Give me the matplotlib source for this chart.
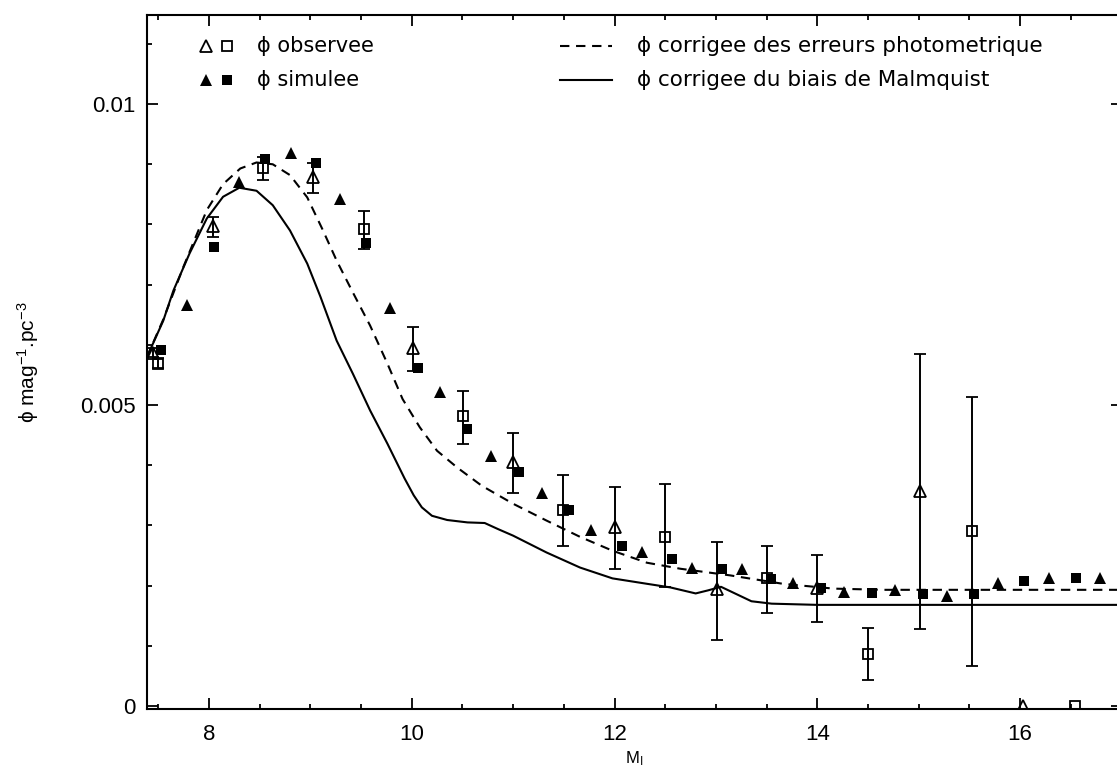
import numpy as np
import matplotlib
matplotlib.use("Agg")
import matplotlib.pyplot as plt
from matplotlib.ticker import MultipleLocator

# -----------------------------------------------------------------------------
# Data (M_I, phi in mag^-1.pc^-3)
# -----------------------------------------------------------------------------
# observed LF, open triangles (with error bars)
obs_tri_m = [7.45, 8.04, 9.03, 10.01, 11.00, 12.00, 13.01, 14.00, 15.01]
obs_tri_phi = [0.00587, 0.00797, 0.00879, 0.00594, 0.00406, 0.00298, 0.00195, 0.00196, 0.00358]
obs_tri_lo = [0.00580, 0.00780, 0.00852, 0.00557, 0.00354, 0.00228, 0.00110, 0.00140, 0.00128]
obs_tri_hi = [0.00594, 0.00812, 0.00902, 0.00629, 0.00454, 0.00364, 0.00273, 0.00251, 0.00584]

# observed LF, open squares (with error bars)
obs_sq_m = [7.50, 8.53, 9.53, 10.51, 11.49, 12.50, 13.50, 14.50, 15.52]
obs_sq_phi = [0.00569, 0.00894, 0.00792, 0.00481, 0.00326, 0.00281, 0.00213, 0.00087, 0.00291]
obs_sq_lo = [0.00561, 0.00874, 0.00759, 0.00436, 0.00266, 0.00198, 0.00155, 0.00043, 0.00067]
obs_sq_hi = [0.00578, 0.00912, 0.00822, 0.00524, 0.00384, 0.00368, 0.00265, 0.00130, 0.00514]

# observed points sitting on zero (no error bar)
obs_zero_tri_m = [16.03]
obs_zero_sq_m = [16.54]
obs_zero_phi = [0.0]

# simulated LF, filled triangles
sim_tri_m = [7.78, 8.30, 8.81, 9.29, 9.79, 10.28, 10.78, 11.28, 11.77, 12.27,
             12.76, 13.26, 13.76, 14.26, 14.77, 15.28, 15.78, 16.28, 16.79]
sim_tri_phi = [0.00666, 0.00870, 0.00918, 0.00842, 0.00661, 0.00521, 0.00416, 0.00354, 0.00293, 0.00256,
               0.00230, 0.00228, 0.00205, 0.00190, 0.00193, 0.00183, 0.00205, 0.00213, 0.00213]

# simulated LF, filled squares
sim_sq_m = [7.53, 8.05, 8.55, 9.06, 9.55, 10.06, 10.55, 11.06, 11.55, 12.07,
            12.57, 13.06, 13.54, 14.04, 14.54, 15.04, 15.54, 16.04, 16.55]
sim_sq_phi = [0.00591, 0.00762, 0.00909, 0.00902, 0.00770, 0.00562, 0.00461, 0.00388, 0.00326, 0.00265,
              0.00245, 0.00228, 0.00211, 0.00196, 0.00188, 0.00186, 0.00186, 0.00208, 0.00213]

# phi corrected for photometric errors (dashed)
dash_m = [7.39, 7.55, 7.75, 7.98, 8.14, 8.31, 8.47, 8.63, 8.80, 8.97, 9.12, 9.26, 9.42,
          9.59, 9.76, 9.91, 10.08, 10.25, 10.45, 10.69, 11.00, 11.33, 11.66, 11.98,
          12.32, 12.65, 13.14, 13.66, 14.16, 14.65, 17.00]
dash_phi = [0.00580, 0.00642, 0.00730, 0.00824, 0.00867, 0.00893, 0.00903, 0.00900, 0.00882,
            0.00845, 0.00792, 0.00740, 0.00687, 0.00632, 0.00569, 0.00510, 0.00463, 0.00424,
            0.00396, 0.00366, 0.00336, 0.00308, 0.00281, 0.00258, 0.00238, 0.00228, 0.00217,
            0.00203, 0.00195, 0.00193, 0.00193]

# phi corrected for Malmquist bias (solid)
solid_m = [7.39, 7.55, 7.65, 7.81, 7.98, 8.14, 8.30, 8.47, 8.63, 8.80, 8.97, 9.10, 9.26,
           9.42, 9.59, 9.76, 9.93, 10.02, 10.10, 10.20, 10.35, 10.55, 10.72, 10.85, 11.00,
           11.33, 11.66, 11.98, 12.32, 12.55, 12.80, 12.92, 13.05, 13.20, 13.35, 13.55,
           14.00, 17.00]
solid_phi = [0.00580, 0.00640, 0.00690, 0.00752, 0.00810, 0.00846, 0.00861, 0.00856, 0.00832,
             0.00790, 0.00735, 0.00680, 0.00607, 0.00552, 0.00491, 0.00436, 0.00378, 0.00350,
             0.00330, 0.00316, 0.00309, 0.00305, 0.00304, 0.00294, 0.00283, 0.00255, 0.00230,
             0.00212, 0.00203, 0.00197, 0.00187, 0.00192, 0.00198, 0.00186, 0.00174, 0.00170,
             0.00168, 0.00168]

y_ticks = [0, 0.005, 0.01]
y_ticklabels = ["0", "0.005", "0.01"]
x_ticks = [8, 10, 12, 14, 16]

legend_left = ["\u03d5 observee", "\u03d5 simulee"]
legend_right = ["\u03d5 corrigee des erreurs photometrique", "\u03d5 corrigee du biais de Malmquist"]

# -----------------------------------------------------------------------------
# Figure setup
# -----------------------------------------------------------------------------
plt.rcParams["font.family"] = ["Liberation Sans", "DejaVu Sans"]
plt.rcParams["mathtext.fontset"] = "custom"
plt.rcParams["mathtext.rm"] = "Liberation Sans"
plt.rcParams["mathtext.default"] = "regular"

W, H = 1117, 767
fig = plt.figure(figsize=(W / 100, H / 100), dpi=100)
ax_left, ax_right, ax_top, ax_bot = 147, 1121.6, 15, 709
ax = fig.add_axes([ax_left / W, 1 - ax_bot / H, (ax_right - ax_left) / W, (ax_bot - ax_top) / H])

ax.set_xlim(7.39, 17.0)
ax.set_ylim(-0.00005, 0.01148)

for s in ax.spines.values():
    s.set_linewidth(1.5)

ax.xaxis.set_major_locator(plt.FixedLocator(x_ticks))
ax.xaxis.set_minor_locator(MultipleLocator(0.5))
ax.yaxis.set_major_locator(plt.FixedLocator(y_ticks))
ax.yaxis.set_minor_locator(MultipleLocator(0.001))
ax.set_yticklabels(y_ticklabels)
ax.tick_params(which="both", direction="in", top=True, right=True, width=1.3)
ax.tick_params(which="major", length=8)
ax.tick_params(which="minor", length=3.5)
ax.tick_params(axis="x", which="major", labelsize=16, pad=11)
ax.tick_params(axis="y", which="major", labelsize=16, pad=8)

ax.set_xlabel("M$_I$", fontsize=12)
ax.xaxis.set_label_coords(0.5, -0.058)
ax.set_ylabel("\u03d5 mag$^{-1}$.pc$^{-3}$", fontsize=15, labelpad=28)

# -----------------------------------------------------------------------------
# Curves
# -----------------------------------------------------------------------------
ax.plot(dash_m, dash_phi, color="black", lw=1.5, dashes=(4.5, 3.2))
ax.plot(solid_m, solid_phi, color="black", lw=1.5)

# -----------------------------------------------------------------------------
# Points
# -----------------------------------------------------------------------------
err_kw = dict(ecolor="black", elinewidth=1.4, capsize=4.5, capthick=1.4, linestyle="none")

tri_phi = np.array(obs_tri_phi)
ax.errorbar(obs_tri_m, tri_phi,
            yerr=[tri_phi - np.array(obs_tri_lo), np.array(obs_tri_hi) - tri_phi],
            marker="^", ms=9, mfc="none", mec="black", mew=1.3, **err_kw)
sq_phi = np.array(obs_sq_phi)
ax.errorbar(obs_sq_m, sq_phi,
            yerr=[sq_phi - np.array(obs_sq_lo), np.array(obs_sq_hi) - sq_phi],
            marker="s", ms=7.5, mfc="none", mec="black", mew=1.3, **err_kw)

ax.plot(obs_zero_tri_m, obs_zero_phi, "^", ms=9, mfc="none", mec="black", mew=1.3)
ax.plot(obs_zero_sq_m, obs_zero_phi, "s", ms=7.5, mfc="none", mec="black", mew=1.3)

ax.plot(sim_tri_m, sim_tri_phi, "^", ms=9, color="black", mew=0)
ax.plot(sim_sq_m, sim_sq_phi, "s", ms=7.5, color="black", mew=0)

# -----------------------------------------------------------------------------
# Legend (drawn by hand, positions in figure pixels from top-left)
# -----------------------------------------------------------------------------
def fx(px):
    return px / W


def fy(py):
    return 1 - py / H


rows = [46, 80]
for i, (row, label) in enumerate(zip(rows, legend_left)):
    open_style = i == 0
    ax.plot([fx(206)], [fy(row)], "^", ms=9, transform=fig.transFigure, clip_on=False,
            mfc="none" if open_style else "black", mec="black", mew=1.3 if open_style else 0)
    ax.plot([fx(227)], [fy(row)], "s", ms=7.5, transform=fig.transFigure, clip_on=False,
            mfc="none" if open_style else "black", mec="black", mew=1.3 if open_style else 0)
    fig.text(fx(257), fy(row + 6), label, fontsize=15, family=["DejaVu Sans"], va="baseline")

for i, (row, label) in enumerate(zip(rows, legend_right)):
    kw = dict(dashes=(4.5, 3.2)) if i == 0 else {}
    ax.plot([fx(560), fx(612)], [fy(row), fy(row)], color="black", lw=1.5,
            transform=fig.transFigure, clip_on=False, **kw)
    fig.text(fx(637), fy(row + 6), label, fontsize=15.5, family=["DejaVu Sans"], va="baseline")

fig.savefig("out.png", dpi=100)
